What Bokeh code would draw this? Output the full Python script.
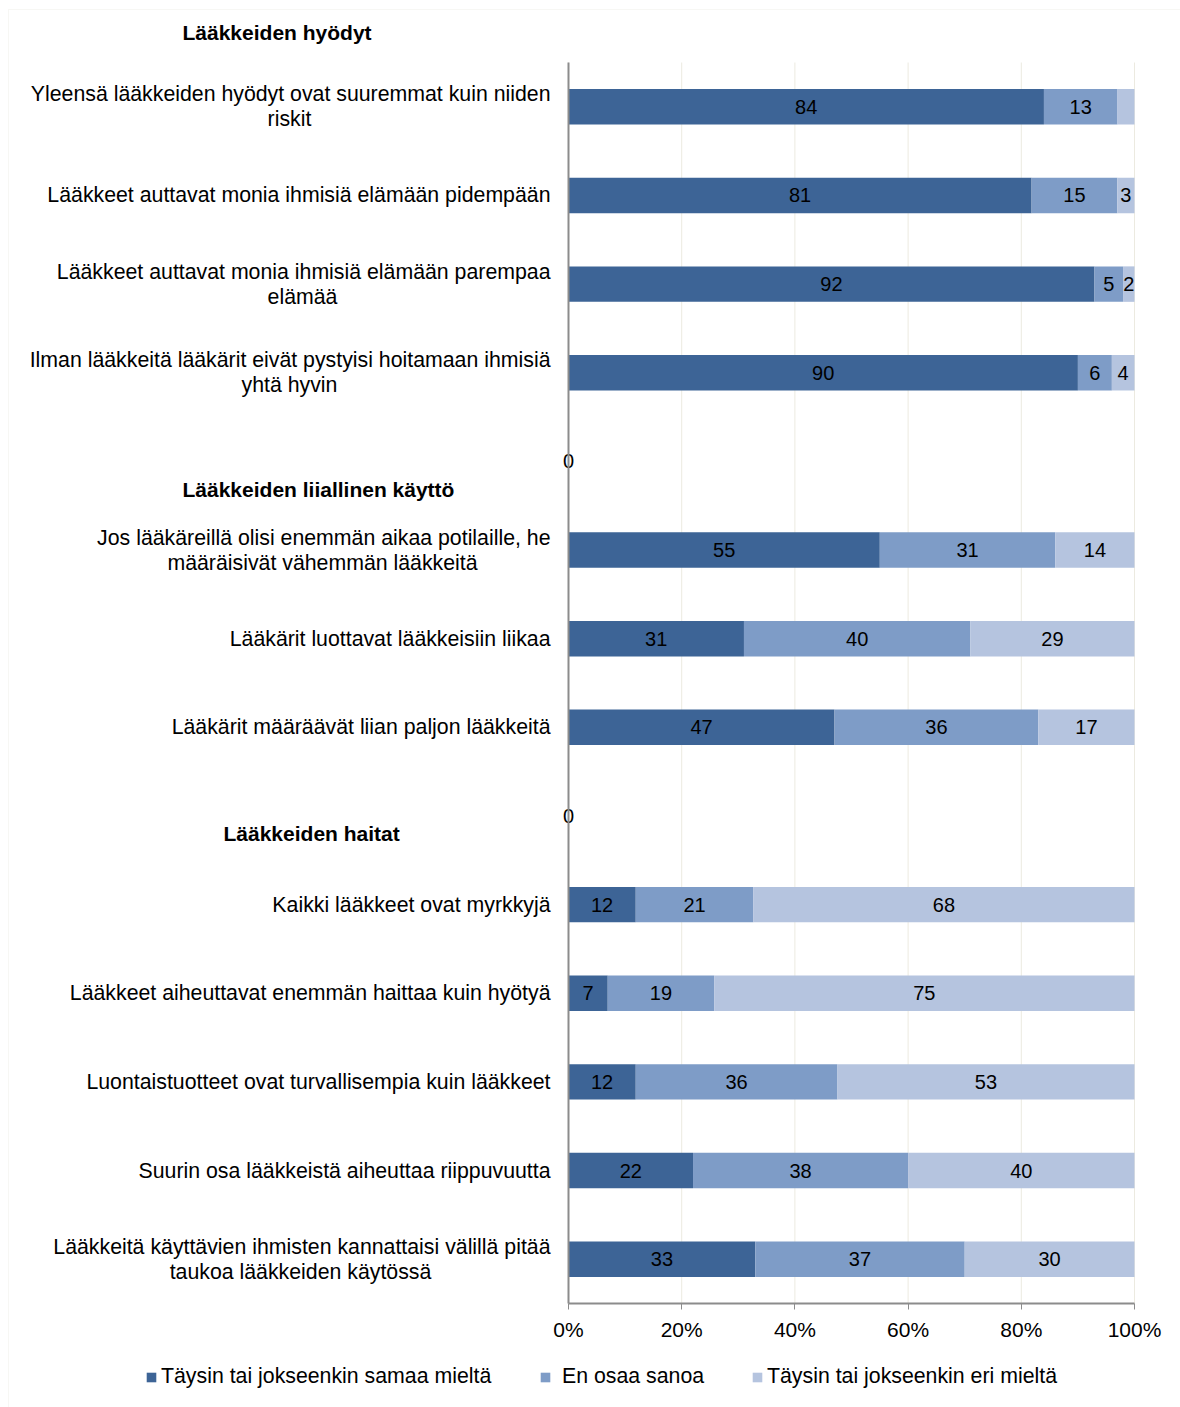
import numpy as np
from bokeh.plotting import figure
from bokeh.models import (ColumnDataSource, Range1d, FixedTicker, Legend, LegendItem,
                          BoxAnnotation)
from bokeh.core.properties import value
from bokeh.embed import file_html
from bokeh.resources import INLINE

# ---------------- data ----------------
categories = [
    "Yleensä lääkkeiden hyödyt ovat suuremmat kuin niiden\nriskit",
    "Lääkkeet auttavat monia ihmisiä elämään pidempään",
    "Lääkkeet auttavat monia ihmisiä elämään parempaa\nelämää",
    "Ilman lääkkeitä lääkärit eivät pystyisi hoitamaan ihmisiä\nyhtä hyvin",
    "",
    "Jos lääkäreillä olisi enemmän aikaa potilaille, he\nmääräisivät vähemmän lääkkeitä",
    "Lääkärit luottavat lääkkeisiin liikaa",
    "Lääkärit määräävät liian paljon lääkkeitä",
    "",
    "Kaikki lääkkeet ovat myrkkyjä",
    "Lääkkeet aiheuttavat enemmän haittaa kuin hyötyä",
    "Luontaistuotteet ovat turvallisempia kuin lääkkeet",
    "Suurin osa lääkkeistä aiheuttaa riippuvuutta",
    "Lääkkeitä käyttävien ihmisten kannattaisi välillä pitää\ntaukoa lääkkeiden käytössä",
]
agree    = [84, 81, 92, 90, 0, 55, 31, 47, 0, 12, 7, 12, 22, 33]
unsure   = [13, 15, 5, 6, 0, 31, 40, 36, 0, 21, 19, 36, 38, 37]
disagree = [3, 3, 2, 4, 0, 14, 29, 17, 0, 68, 75, 53, 40, 30]
series_names = ["Täysin tai jokseenkin samaa mieltä", "En osaa sanoa",
                "Täysin tai jokseenkin eri mieltä"]
section_titles = ["Lääkkeiden hyödyt", "Lääkkeiden liiallinen käyttö", "Lääkkeiden haitat"]
x_ticks = [0, 20, 40, 60, 80, 100]
x_tick_labels = ["0%", "20%", "40%", "60%", "80%", "100%"]
hidden_labels = [(0, 2)]

# ---------------- styling / layout ----------------
colors = ["#3D6496", "#7E9CC7", "#B5C4DF"]
FONT = value("Liberation Sans")
W, H = 1180, 1407
FRAME_LEFT, FRAME_RIGHT = 568, 1134
FRAME_TOP, FRAME_BOTTOM = 62, 1303
N = len(categories)
SLOT = (FRAME_BOTTOM - FRAME_TOP) / N

def px_x(px):
    return (px - FRAME_LEFT) / (FRAME_RIGHT - FRAME_LEFT) * 100.0

def px_y(py):
    return (py - FRAME_TOP) / SLOT - 0.5

second_line_center = {0: 289, 2: 302, 3: 289, 5: 322, 13: 300}
section_pos = [(182, 32), (182, 489), (223, 833)]
legend_pos = [(145, 4), (539, 11), (751, 4)]   # glyph left edge, label standoff
LABEL_RIGHT = 550
HALF = 12.5
LABEL_SIZE = "21.3px"

# ---------------- normalise to 100 % ----------------
vals = np.array([agree, unsure, disagree], dtype=float)
tot = vals.sum(axis=0)
pct = np.where(tot > 0, vals / np.where(tot > 0, tot, 1) * 100.0, 0.0)
ys = list(range(N))

src = ColumnDataSource(dict(y=ys, s0=pct[0], s1=pct[1], s2=pct[2]))

p = figure(width=W, height=H, output_backend="svg", toolbar_location=None,
           x_range=Range1d(px_x(0), px_x(W)), y_range=Range1d(px_y(H), px_y(0)),
           min_border=0, min_border_left=0, min_border_right=0,
           min_border_top=0, min_border_bottom=0)
p.outline_line_color = None
p.background_fill_color = "white"
p.border_fill_color = "white"
p.xgrid.visible = False
p.ygrid.visible = False

# chart border (top / left edges visible)
p.add_layout(BoxAnnotation(left=px_x(8), top=px_y(9), right=px_x(W + 50), bottom=px_y(H + 50),
                           fill_alpha=0, line_color="#E6E4D9", line_width=1))

# vertical gridlines at the tick positions
p.segment(x0=x_ticks, x1=x_ticks, y0=-0.5, y1=N - 0.5, line_color="#ECEAE0", line_width=1)

rs = p.hbar_stack(["s0", "s1", "s2"], y="y", height=0.4, color=colors,
                  line_color=None, source=src)

# axes (fixed inside the full-canvas frame)
xa = p.xaxis[0]
xa.fixed_location = N - 0.5
xa.bounds = (0, 100)
xa.ticker = FixedTicker(ticks=x_ticks)
xa.major_label_overrides = {t: l for t, l in zip(x_ticks, x_tick_labels)}
xa.major_label_text_font = "Liberation Sans"
xa.major_label_text_font_size = "21px"
xa.major_label_text_color = "black"
xa.axis_line_color = "#8C8C8C"
xa.axis_line_width = 2
xa.major_tick_line_color = "#8C8C8C"
xa.major_tick_out = 6
xa.major_tick_in = 0
xa.minor_tick_line_color = None
xa.major_label_standoff = 8

ya = p.yaxis[0]
ya.fixed_location = 0
ya.bounds = (-0.5, N - 0.5)
ya.ticker = FixedTicker(ticks=[])
ya.axis_line_color = "#8C8C8C"
ya.axis_line_width = 2
ya.major_tick_line_color = None
ya.minor_tick_line_color = None
ya.major_label_text_font_size = "0px"

# data labels
lx, ly, lt = [], [], []
for i in range(N):
    if tot[i] == 0:
        lx.append(0.0); ly.append(i); lt.append("0")
        continue
    left = 0.0
    for s in range(3):
        w = pct[s][i]
        if vals[s][i] > 0 and (i, s) not in hidden_labels:
            lx.append(left + w / 2); ly.append(i); lt.append(str(int(vals[s][i])))
        left += w
p.text(x=lx, y=ly, text=lt, text_align="center", text_baseline="middle",
       text_font=FONT, text_font_size="20px", text_color="black")

# category labels
cx, cy, ct, ca = [], [], [], []
for i, c in enumerate(categories):
    if not c:
        continue
    lines = c.split("\n")
    if len(lines) == 1:
        cx.append(px_x(LABEL_RIGHT)); cy.append(i); ct.append(lines[0]); ca.append("right")
    else:
        yc = FRAME_TOP + (i + 0.5) * SLOT
        cx.append(px_x(LABEL_RIGHT)); cy.append(px_y(yc - HALF)); ct.append(lines[0]); ca.append("right")
        cx.append(px_x(second_line_center[i])); cy.append(px_y(yc + HALF)); ct.append(lines[1]); ca.append("center")
p.text(x=cx, y=cy, text=ct, text_align=ca, text_baseline="middle",
       text_font=FONT, text_font_size=LABEL_SIZE, text_color="black")

# section titles
p.text(x=[px_x(a) for a, b in section_pos], y=[px_y(b) for a, b in section_pos],
       text=section_titles, text_align="left", text_baseline="middle",
       text_font=FONT, text_font_style="bold", text_font_size="21px", text_color="black")

# legend (one per item so that each can sit where the reference shows it)
for name, r, (lx0, standoff) in zip(series_names, rs, legend_pos):
    lg = Legend(items=[LegendItem(label=name, renderers=[r])],
                orientation="horizontal", location=(lx0, H - 1389),
                glyph_width=12, glyph_height=12, label_standoff=standoff,
                padding=0, margin=0, border_line_color=None, background_fill_alpha=0,
                label_text_font="Liberation Sans", label_text_font_size=LABEL_SIZE,
                label_text_color="black")
    p.add_layout(lg)

open("out.html", "w").write(file_html(p, INLINE))
